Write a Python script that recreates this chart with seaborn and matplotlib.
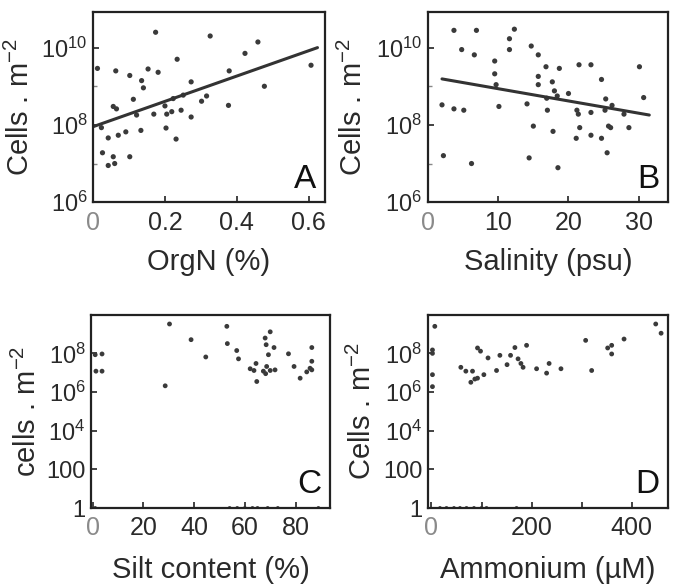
import numpy as np
import pandas as pd
import matplotlib
matplotlib.use("Agg")
import matplotlib.pyplot as plt
import seaborn as sns
from matplotlib.ticker import FixedLocator, NullFormatter, NullLocator

# ---------------- data ----------------
orgN = [0.174, 0.326, 0.459, 0.423, 0.607, 0.234, 0.012, 0.063, 0.102, 0.153, 0.181,
        0.135, 0.140, 0.273, 0.379, 0.477, 0.112, 0.056, 0.065, 0.223, 0.251, 0.200,
        0.302, 0.316, 0.377, 0.169, 0.205, 0.219, 0.245, 0.273, 0.121, 0.023, 0.203,
        0.133, 0.042, 0.070, 0.091, 0.231, 0.026, 0.056, 0.060, 0.042, 0.102]
cells_A = [2.5e10, 2.0e10, 1.4e10, 7.1e9, 3.5e9, 5.0e9, 2.9e9, 2.5e9, 1.9e9, 2.8e9, 2.3e9,
           1.4e9, 9.1e8, 1.3e9, 2.5e9, 1.0e9, 4.6e8, 3.0e8, 2.6e8, 4.8e8, 5.9e8, 3.1e8,
           4.1e8, 5.6e8, 3.2e8, 1.9e8, 1.9e8, 2.2e8, 2.4e8, 1.6e8, 1.8e8, 8.5e7, 8.3e7,
           7.2e7, 4.6e7, 5.4e7, 6.6e7, 4.3e7, 1.9e7, 1.5e7, 1.0e7, 8.9e6, 1.5e7]
fit_x_A = [0.0, 0.625]
fit_y_A = [9.0e7, 1.0e10]

salinity = [3.7, 6.9, 12.3, 11.6, 4.8, 11.6, 14.7, 6.6, 15.7, 9.5, 9.5, 16.8, 18.7, 21.5,
            23.2, 30.1, 15.7, 15.7, 17.7, 24.7, 9.7, 18.0, 18.4, 20.0, 16.9, 25.3, 30.7,
            2.0, 3.7, 5.1, 10.1, 14.1, 17.0, 21.2, 21.4, 23.2, 25.2, 26.2, 27.9, 15.0,
            21.6, 17.8, 25.7, 26.0, 28.6, 23.2, 21.1, 24.7, 25.5, 2.2, 6.2, 14.4, 18.5]
cells_B = [2.8e10, 2.8e10, 3.0e10, 1.7e10, 8.9e9, 8.9e9, 1.1e10, 6.5e9, 6.5e9, 4.5e9, 2.1e9,
           3.2e9, 2.9e9, 3.6e9, 3.6e9, 3.2e9, 1.8e9, 1.1e9, 1.3e9, 1.5e9, 1.1e9, 7.6e8,
           5.6e8, 6.5e8, 4.9e8, 4.7e8, 5.1e8, 3.3e8, 2.6e8, 2.4e8, 3.0e8, 3.5e8, 2.4e8,
           2.4e8, 1.9e8, 2.1e8, 2.4e8, 3.2e8, 1.9e8, 9.3e7, 8.5e7, 6.8e7, 9.3e7, 8.5e7,
           8.5e7, 5.4e7, 4.5e7, 4.5e7, 1.9e7, 1.6e7, 1.0e7, 1.4e7, 7.8e6]
fit_x_B = [2.0, 31.5]
fit_y_B = [1.55e9, 1.8e8]

silt = [30.3, 52.9, 38.8, 53.1, 70.0, 68.0, 68.4, 71.5, 69.3, 56.8, 57.5, 44.6, 77.2,
        86.4, 86.4, 86.4, 84.4, 79.4, 81.8, 64.4, 62.1, 63.6, 64.7, 68.6, 68.2, 70.0,
        71.9, 67.3, 28.6, 1.0, 1.3, 3.7, 3.7, 85.7]
cells_C = [3.3e9, 2.5e9, 5.1e8, 3.2e8, 1.3e9, 6.2e8, 2.8e8, 2.0e8, 8.5e7, 1.4e8, 5.2e7,
           6.5e7, 9.5e7, 2.0e8, 3.9e7, 1.4e7, 1.1e7, 2.1e7, 5.2e6, 3.0e7, 1.6e7, 1.3e7,
           3.5e6, 2.1e7, 8.9e6, 1.3e7, 1.4e7, 1.2e7, 2.1e6, 8.5e7, 1.2e7, 9.3e7, 1.2e7, 1.7e7]
silt_zero = [1.0, 54.0, 57.0, 60.0, 63.0, 65.0, 69.0, 73.0, 89.0]
cells_C_zero = [1, 1, 1, 1, 1, 1, 1, 1, 1]

ammonium = [6.7, 2.0, 2.0, 2.0, 2.0, 58.7, 68.7, 82.0, 78.7, 86.7, 92.0, 104.7, 92.0, 98.0,
            113.0, 130.0, 136.7, 151.0, 158.0, 166.7, 173.0, 178.7, 183.0, 190.0, 210.0,
            230.0, 235.0, 258.7, 308.0, 320.0, 352.0, 360.0, 360.0, 384.7, 448.0, 458.7]
cells_D = [2.5e9, 1.5e8, 1.0e8, 7.9e6, 1.9e6, 1.9e7, 1.2e7, 1.2e7, 3.2e6, 4.7e6, 5.2e6,
           7.9e6, 1.9e8, 1.3e8, 5.8e7, 1.3e7, 7.9e7, 2.6e7, 7.9e7, 2.0e8, 5.2e7, 3.0e7,
           1.9e7, 2.6e8, 1.6e7, 9.5e6, 3.0e7, 1.6e7, 4.7e8, 1.3e7, 1.9e8, 2.6e8, 9.3e7,
           5.5e8, 3.3e9, 1.1e9]
amm_zero = [17.0, 30.0, 45.0, 57.0, 70.0, 85.0, 100.0, 110.0, 170.0]
cells_D_zero = [1, 1, 1, 1, 1, 1, 1, 1, 1]

# ---------------- style ----------------
sns.set_style("ticks")
plt.rcParams['font.family'] = ['Liberation Sans', 'DejaVu Sans']
plt.rcParams['mathtext.fontset'] = 'custom'
plt.rcParams['mathtext.rm'] = 'Liberation Sans'
plt.rcParams['mathtext.it'] = 'Liberation Sans'
plt.rcParams['mathtext.default'] = 'regular'

TXT = '#2a2a2a'
DOT = '#3a3a3a'

fig = plt.figure(figsize=(6.75, 5.86), dpi=100)
axA = fig.add_axes([0.138, 0.655, 0.343, 0.325])
axB = fig.add_axes([0.634, 0.655, 0.356, 0.325])
axC = fig.add_axes([0.135, 0.133, 0.354, 0.330])
axD = fig.add_axes([0.634, 0.133, 0.356, 0.330])

def style(ax, letter, xlabel, ylabel, ylab_x, xlab_y):
    ax.set_yscale('log')
    for s in ax.spines.values():
        s.set_linewidth(1.6)
        s.set_color('#222222')
    ax.tick_params(direction='in', length=4, width=1.2, colors='#222222',
                   labelcolor=TXT, labelsize=17)
    ax.tick_params(axis='y', pad=4)
    ax.tick_params(axis='x', pad=6, labelsize=18)
    ax.tick_params(which='minor', direction='in', length=3, width=1.0, colors='#888888')
    ax.set_xlabel(xlabel, fontsize=21, color=TXT)
    ax.set_ylabel(ylabel, fontsize=21, color=TXT)
    ax.yaxis.set_label_coords(ylab_x, 0.5)
    ax.xaxis.set_label_coords(0.5, xlab_y)
    ax.text(0.965, 0.04, letter, transform=ax.transAxes, ha='right', va='bottom',
            fontsize=24, color='#111111')

# Panel A
sns.scatterplot(x=orgN, y=cells_A, ax=axA, color=DOT, s=14, edgecolor='none')
sns.lineplot(x=fit_x_A, y=fit_y_A, ax=axA, color='#333333', linewidth=2.2)
style(axA, 'A', 'OrgN (%)', r'Cells . m$^{-2}$', -0.25, -0.24)
axA.set_xlim(0, 0.645)
axA.set_ylim(1e6, 8.5e10)
axA.set_xticks([0, 0.2, 0.4, 0.6])
axA.set_xticklabels(['0', '0.2', '0.4', '0.6'])
axA.yaxis.set_major_locator(FixedLocator([1e6, 1e8, 1e10]))
axA.set_yticklabels([r'10$^{6}$', r'10$^{8}$', r'10$^{10}$'])
axA.yaxis.set_minor_locator(FixedLocator([1e7, 1e9]))
axA.yaxis.set_minor_formatter(NullFormatter())

# Panel B
sns.scatterplot(x=salinity, y=cells_B, ax=axB, color=DOT, s=14, edgecolor='none')
sns.lineplot(x=fit_x_B, y=fit_y_B, ax=axB, color='#333333', linewidth=2.2)
style(axB, 'B', 'Salinity (psu)', r'Cells . m$^{-2}$', -0.25, -0.24)
axB.set_xlim(0.47, 34.2)
axB.set_ylim(1e6, 8.5e10)
axB.set_xticks([0, 10, 20, 30])
axB.set_xticklabels(['0', '10', '20', '30'])
axB.yaxis.set_major_locator(FixedLocator([1e6, 1e8, 1e10]))
axB.set_yticklabels([r'10$^{6}$', r'10$^{8}$', r'10$^{10}$'])
axB.yaxis.set_minor_locator(FixedLocator([1e7, 1e9]))
axB.yaxis.set_minor_formatter(NullFormatter())

# Panel C
sns.scatterplot(x=silt, y=cells_C, ax=axC, color=DOT, s=12, edgecolor='none')
sns.scatterplot(x=silt_zero, y=cells_C_zero, ax=axC, color=DOT, s=8, edgecolor='none')
style(axC, 'C', 'Silt content (%)', r'cells . m$^{-2}$', -0.205, -0.25)
axC.set_xlim(-0.6, 93.6)
axC.set_ylim(1, 1e10)
axC.set_xticks([0, 20, 40, 60, 80])
axC.set_xticklabels(['0', '20', '40', '60', '80'])
axC.yaxis.set_major_locator(FixedLocator([1, 1e2, 1e4, 1e6, 1e8]))
axC.set_yticklabels(['1', '100', r'10$^{4}$', r'10$^{6}$', r'10$^{8}$'])
axC.yaxis.set_minor_locator(NullLocator())

# Panel D
sns.scatterplot(x=ammonium, y=cells_D, ax=axD, color=DOT, s=12, edgecolor='none')
sns.scatterplot(x=amm_zero, y=cells_D_zero, ax=axD, color=DOT, s=8, edgecolor='none')
style(axD, 'D', u'Ammonium (\u00b5M)', r'Cells . m$^{-2}$', -0.21, -0.25)
axD.set_xlim(-7, 473)
axD.set_ylim(1, 1e10)
axD.set_xticks([0, 100, 200, 300, 400])
axD.set_xticklabels(['0', '', '200', '', '400'])
axD.yaxis.set_major_locator(FixedLocator([1, 1e2, 1e4, 1e6, 1e8]))
axD.set_yticklabels(['1', '100', r'10$^{4}$', r'10$^{6}$', r'10$^{8}$'])
axD.yaxis.set_minor_locator(NullLocator())

for ax in (axA, axB, axC, axD):
    if ax.get_legend() is not None:
        ax.get_legend().remove()
    ax.get_xticklabels()[0].set_color('#8a8a8a')

fig.savefig('out.png', dpi=100, facecolor='white')
